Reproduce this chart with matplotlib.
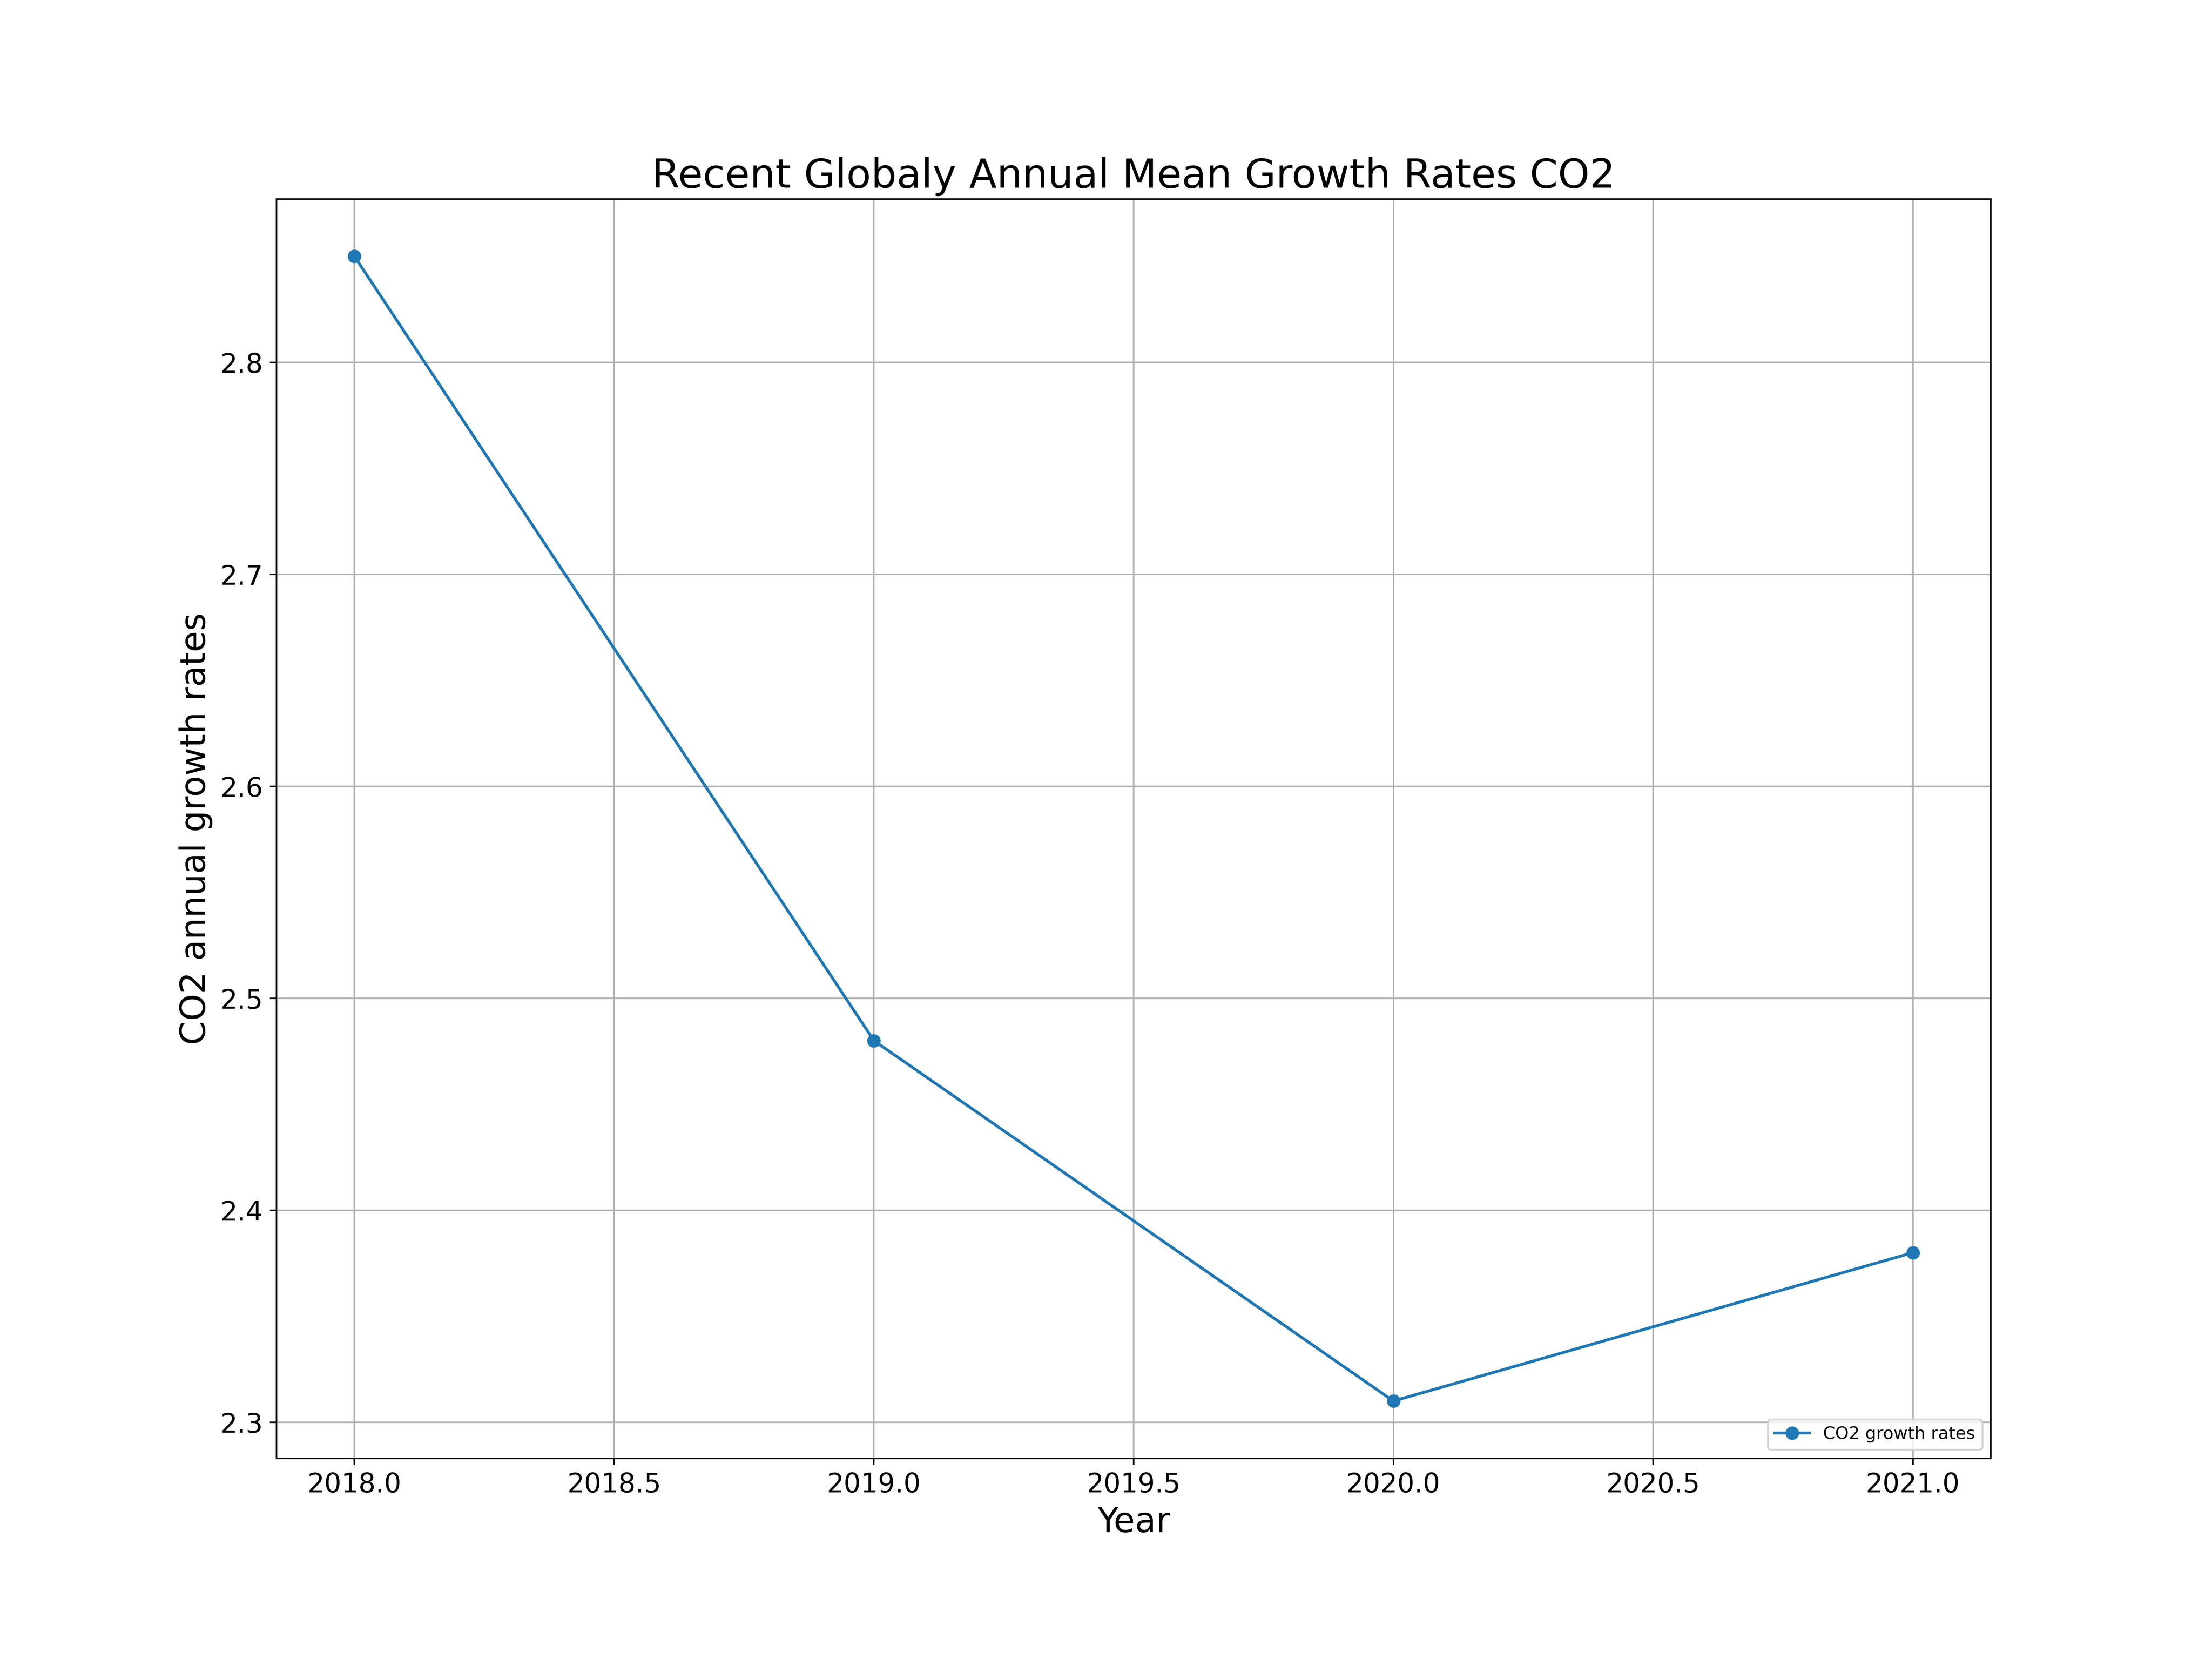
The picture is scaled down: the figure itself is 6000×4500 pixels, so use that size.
import matplotlib
matplotlib.use('Agg')
import matplotlib.pyplot as plt

years = [2018, 2019, 2020, 2021]
growth_rates = [2.85, 2.48, 2.31, 2.38]

fig, ax = plt.subplots(figsize=(16, 12))
fig.subplots_adjust(bottom=0.121)
ax.plot(years, growth_rates, marker='o', label='CO2 growth rates')
ax.set_title('Recent Globaly Annual Mean Growth Rates CO2', fontsize=21)
ax.set_xlabel('Year', fontsize=18)
ax.set_ylabel('CO2 annual growth rates', fontsize=18)
ax.tick_params(labelsize=14)
ax.grid(True)
ax.legend(loc='lower right', fontsize=9)

plt.savefig('out.png', dpi=375)
